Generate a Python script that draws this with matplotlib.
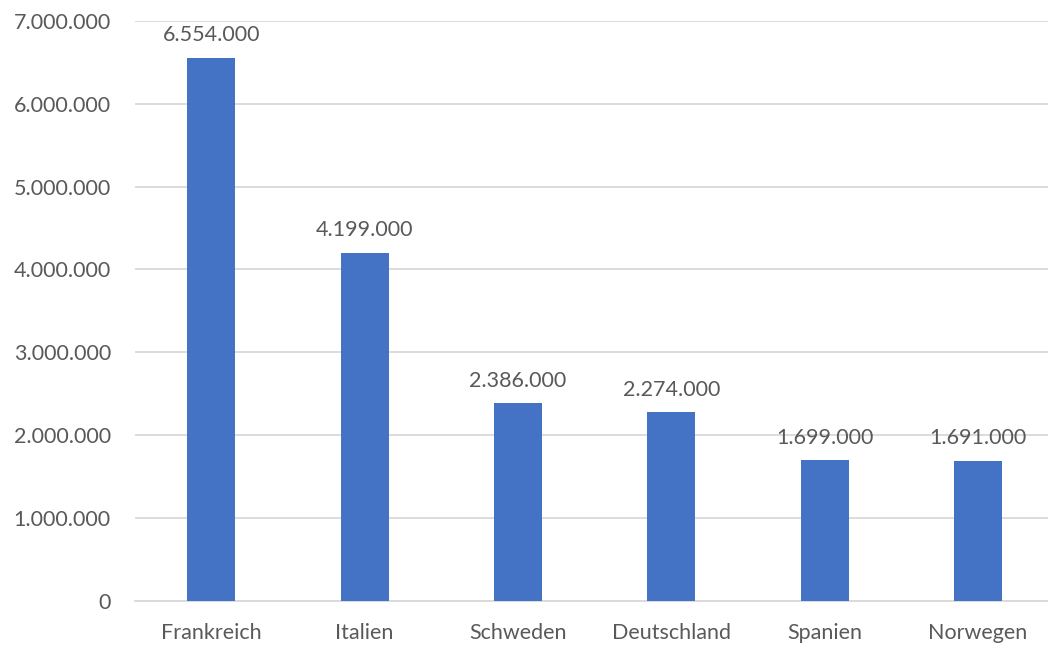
import matplotlib
matplotlib.use("Agg")
import matplotlib.pyplot as plt
from matplotlib.ticker import FuncFormatter

# data
countries = ["Frankreich", "Italien", "Schweden", "Deutschland", "Spanien", "Norwegen"]
values = [6554000, 4199000, 2386000, 2274000, 1699000, 1691000]
yticks = [0, 1000000, 2000000, 3000000, 4000000, 5000000, 6000000, 7000000]

bar_color = "#4472C4"
text_color = "#595959"
grid_color = "#D9D9D9"

plt.rcParams["font.family"] = ["Lato", "DejaVu Sans"]
fs = 15.5


def de_fmt(v, pos=None):
    # German thousands separator
    return "{:,.0f}".format(v).replace(",", ".")


fig = plt.figure(figsize=(10.48, 6.45), dpi=100)
ax = fig.add_axes([134.5 / 1048, 1 - 601 / 645, (1048 - 134.5) / 1048, (601 - 20.7) / 645])

x = list(range(len(countries)))
bars = ax.bar(x, values, width=0.313, color=bar_color, zorder=3)

for b, v in zip(bars, values):
    ax.annotate(de_fmt(v), (b.get_x() + b.get_width() / 2, v),
                xytext=(0, 9), textcoords="offset points",
                ha="center", va="bottom", fontsize=fs, color=text_color)

ax.set_xlim(-0.5, (1048 - 211) / 153.4)
ax.set_ylim(0, 7000000)
ax.set_yticks(yticks)
ax.yaxis.set_major_formatter(FuncFormatter(de_fmt))
ax.set_xticks(x)
ax.set_xticklabels(countries)

ax.grid(axis="y", color=grid_color, linewidth=1.3, zorder=0)
for s in ["top", "right", "left"]:
    ax.spines[s].set_visible(False)
ax.spines["bottom"].set_color(grid_color)
ax.spines["bottom"].set_linewidth(1.3)
ax.tick_params(axis="both", length=0, labelsize=fs, labelcolor=text_color)
ax.tick_params(axis="y", pad=17)
ax.tick_params(axis="x", pad=16)

fig.savefig("out.png", dpi=100)
